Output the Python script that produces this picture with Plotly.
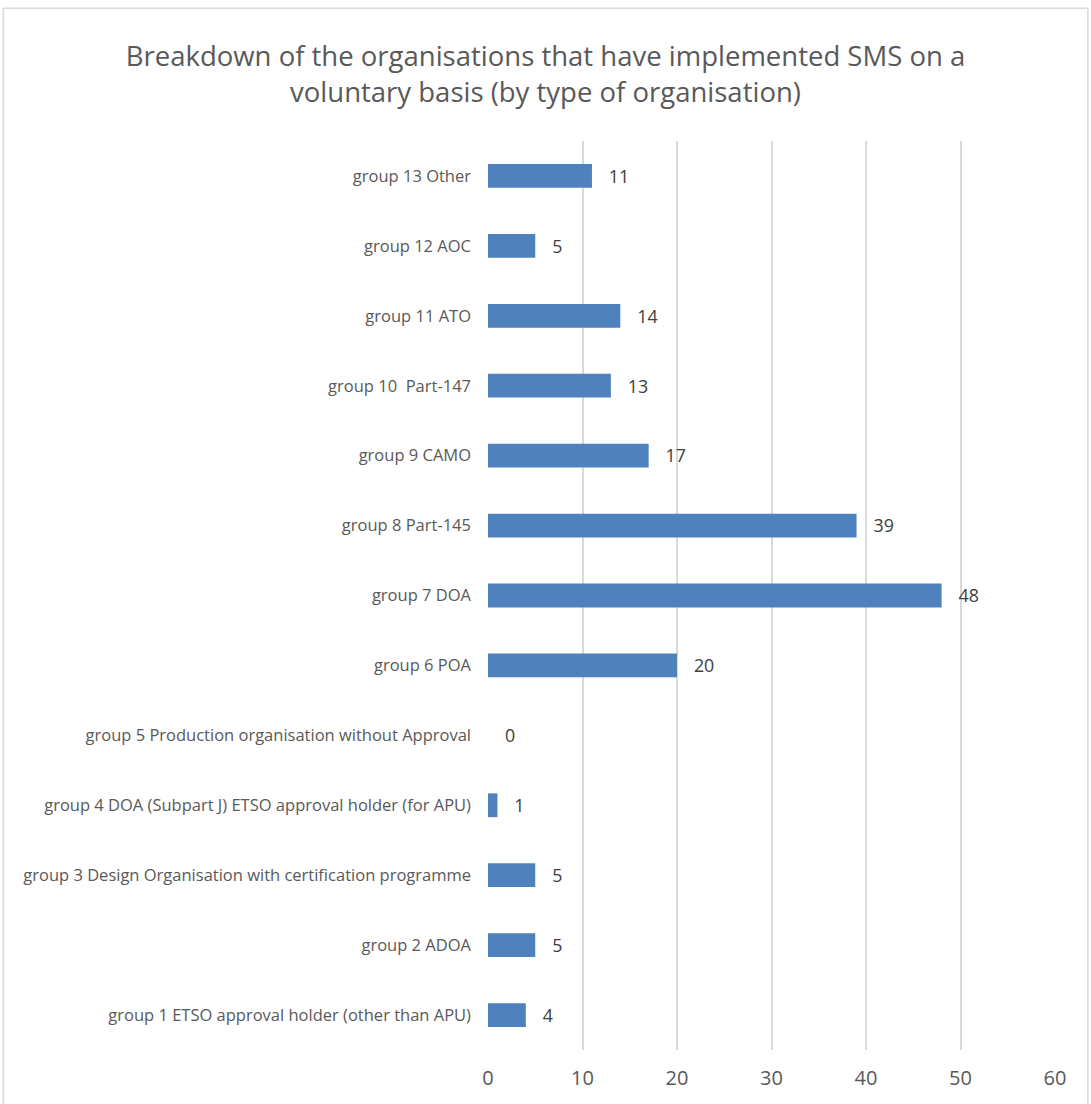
import plotly.graph_objects as go

categories = [
    "group 1 ETSO approval holder (other than APU)",
    "group 2 ADOA",
    "group 3 Design Organisation with certification programme",
    "group 4 DOA (Subpart J) ETSO approval holder (for APU)",
    "group 5 Production organisation without Approval",
    "group 6 POA",
    "group 7 DOA",
    "group 8 Part-145",
    "group 9 CAMO",
    "group 10  Part-147",
    "group 11 ATO",
    "group 12 AOC",
    "group 13 Other",
]
values = [4, 5, 5, 1, 0, 20, 48, 39, 17, 13, 14, 5, 11]
x_ticks = [0, 10, 20, 30, 40, 50, 60]

FONT = "Open Sans, Liberation Sans, sans-serif"

fig = go.Figure(
    go.Bar(
        y=categories,
        x=values,
        orientation="h",
        width=0.34,
        marker=dict(color="#4F81BD", line=dict(width=0)),
        text=values,
        texttemplate="   %{x}",
        textposition="outside",
        textfont=dict(family=FONT, size=21, color="#404040"),
        cliponaxis=False,
        hoverinfo="skip",
    )
)

fig.update_layout(
    width=1091,
    height=1104,
    margin=dict(l=488, r=36, t=141, b=54),
    paper_bgcolor="white",
    plot_bgcolor="white",
    showlegend=False,
    title=dict(
        text="Breakdown of the organisations that have implemented SMS on a<br>voluntary basis (by type of organisation)",
        x=0.5,
        xanchor="center",
        yref="container",
        y=0.94,
        yanchor="middle",
        font=dict(family=FONT, size=27.5, color="#595959"),
    ),
    xaxis=dict(
        range=[0, 60],
        tickvals=x_ticks,
        showgrid=True,
        gridcolor="#D9D9D9",
        gridwidth=1.5,
        zeroline=False,
        showline=False,
        ticks="",
        ticklabelstandoff=14,
        tickfont=dict(family=FONT, size=20, color="#595959"),
    ),
    yaxis=dict(
        categoryorder="array",
        categoryarray=categories,
        showgrid=False,
        zeroline=False,
        showline=False,
        ticks="",
        ticklabelstandoff=16,
        tickfont=dict(family=FONT, size=16.5, color="#595959"),
    ),
    shapes=[
        dict(
            type="rect",
            xref="paper",
            yref="paper",
            x0=-0.855,
            x1=1.058,
            y0=-0.07,
            y1=1.146,
            line=dict(color="#D9D9D9", width=1.5),
            fillcolor="rgba(0,0,0,0)",
            layer="below",
        )
    ],
)

fig.write_html("out.html")
